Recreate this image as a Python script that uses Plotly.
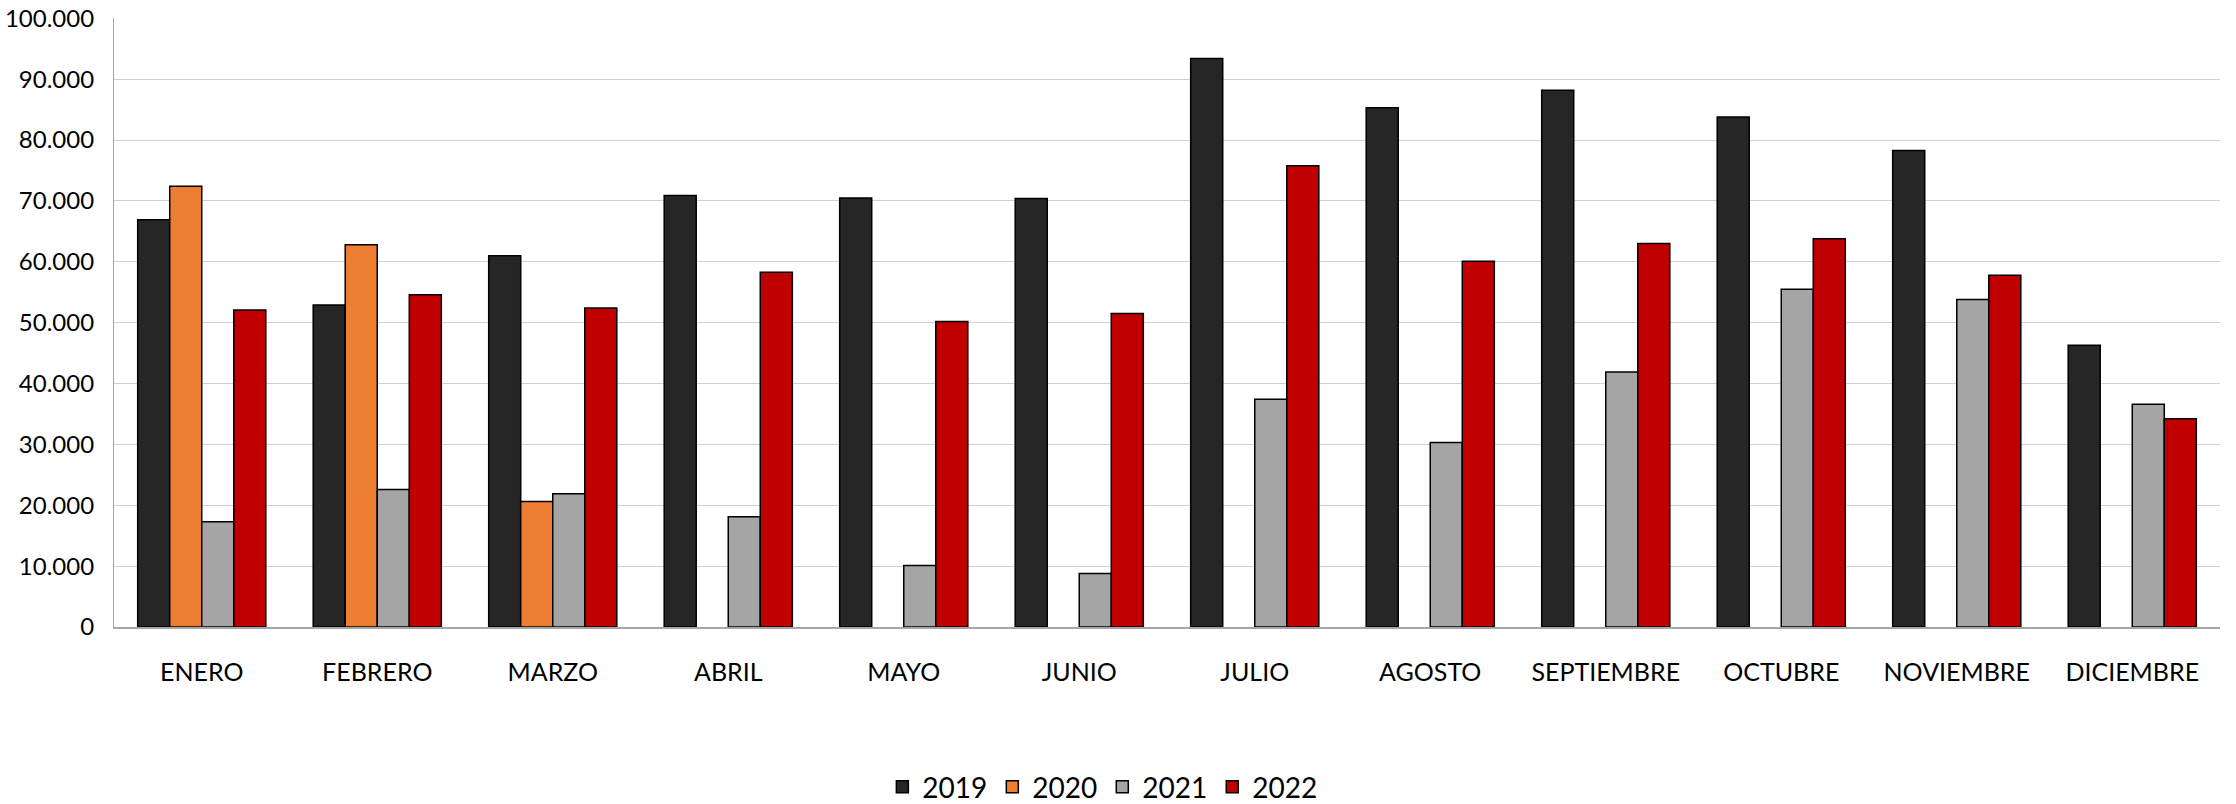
import plotly.graph_objects as go

months = ["ENERO", "FEBRERO", "MARZO", "ABRIL", "MAYO", "JUNIO", "JULIO",
          "AGOSTO", "SEPTIEMBRE", "OCTUBRE", "NOVIEMBRE", "DICIEMBRE"]
v2019 = [66900, 52900, 61000, 70900, 70500, 70400, 93400, 85300, 88200, 83800, 78300, 46300]
v2020 = [72400, 62800, 20600, None, None, None, None, None, None, None, None, None]
v2021 = [17300, 22600, 21900, 18100, 10100, 8800, 37400, 30300, 41900, 55500, 53800, 36600]
v2022 = [52100, 54600, 52400, 58300, 50200, 51500, 75800, 60100, 63000, 63800, 57800, 34200]

series = [("2019", v2019, "#262626"), ("2020", v2020, "#ED7D31"),
          ("2021", v2021, "#A5A5A5"), ("2022", v2022, "#C00000")]

fig = go.Figure()
for name, vals, col in series:
    fig.add_trace(go.Bar(name=name, x=months, y=vals, marker_color=col,
                         marker_line_color="#000000", marker_line_width=1.5))

font = "Lato"
fig.update_layout(
    width=2236, height=804,
    barmode="group", bargap=0.27, bargroupgap=0,
    separators=",.",
    paper_bgcolor="white", plot_bgcolor="white",
    margin=dict(l=114, r=16, t=18, b=177, autoexpand=False),
    font=dict(family=font, size=24, color="#000000"),
    legend=dict(orientation="h", xref="container", yref="container",
                x=0.493, xanchor="center", y=0.021, yanchor="middle",
                font=dict(size=28), itemwidth=30, traceorder="normal"),
    showlegend=True,
)
fig.update_yaxes(range=[0, 100060], tickvals=list(range(0, 100001, 10000)),
                 tickformat=",d", automargin=False,
                 showgrid=True, gridcolor="#D0D0D0", gridwidth=1.2,
                 showline=True, linecolor="#A6A6A6", linewidth=1.2,
                 zeroline=False, ticks="", ticklabelstandoff=14,
                 tickfont=dict(size=24))
fig.update_xaxes(showline=True, linecolor="#A6A6A6", linewidth=1.5, ticks="",
                 automargin=False,
                 ticklabelstandoff=22, tickfont=dict(size=25), mirror=False)

fig.write_html("out.html", config={"displayModeBar": False},
               post_script="document.body.style.margin='0';document.body.style.overflow='hidden';")
